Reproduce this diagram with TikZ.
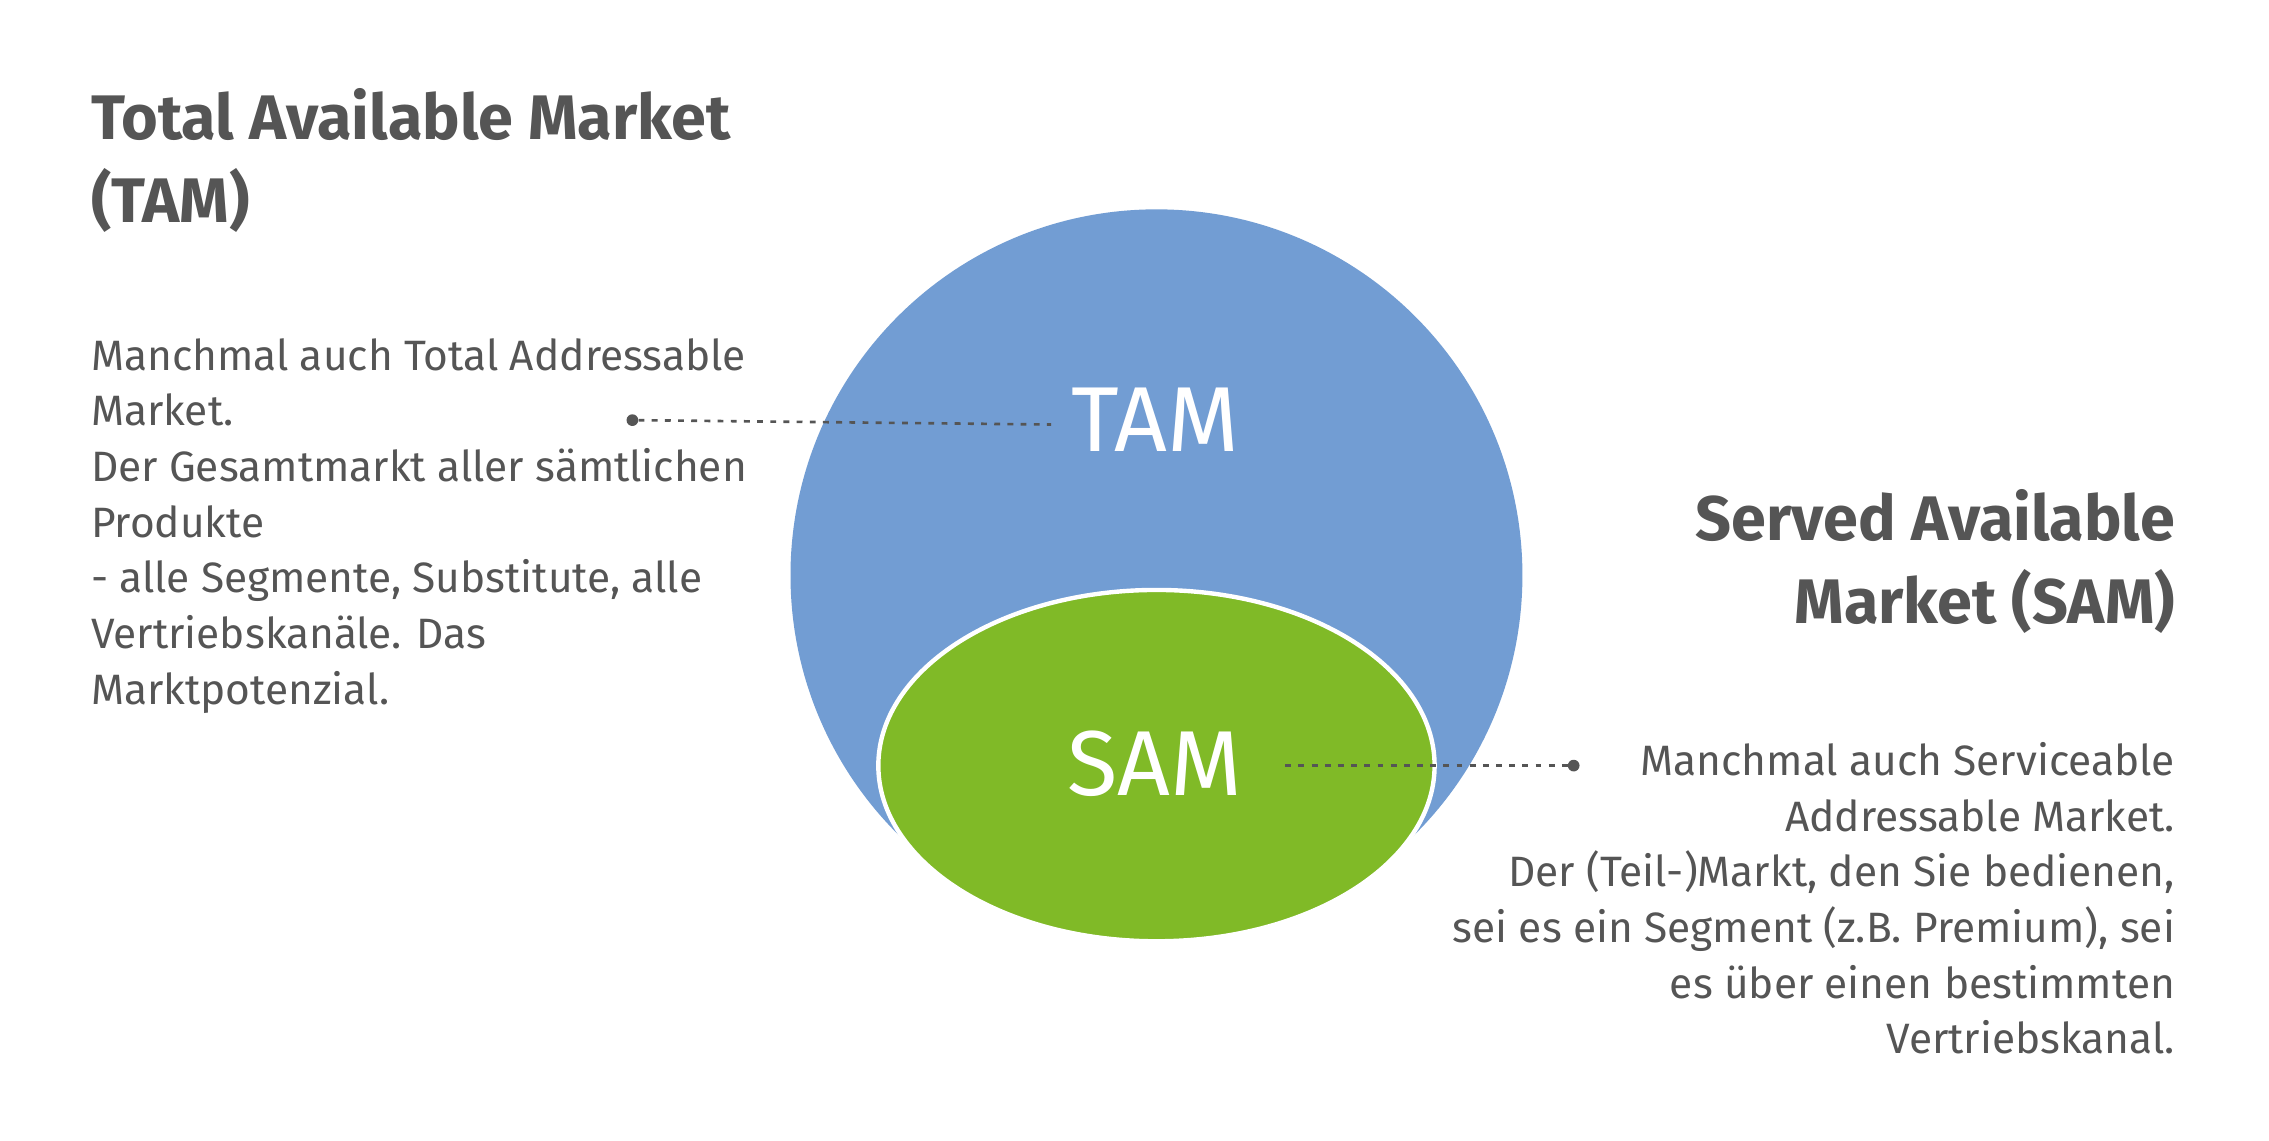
\documentclass[tikz,border=0pt]{standalone}
\usepackage{fontspec}
\setmainfont{Fira Sans}
\definecolor{tamblue}{HTML}{729DD3}
\definecolor{samgreen}{HTML}{80BA27}
\definecolor{txt}{HTML}{555555}
\begin{document}
\begin{tikzpicture}[x=1pt,y=-1pt,
  ttl/.style={text=txt,font=\fontsize{43}{57}\selectfont\bfseries,inner sep=0},
  body/.style={text=txt,font=\fontsize{29}{38}\selectfont,inner sep=0},
  big/.style={text=white,font=\fontsize{63}{63}\selectfont},
  dotline/.style={txt,line width=1.8pt,dash pattern=on 4pt off 5pt},
  enddot/.style={circle,fill=txt,inner sep=0,minimum size=8pt}]
\useasboundingbox (0,0) rectangle (1550,779);
\fill[white] (0,0) rectangle (1550,779);
\fill[tamblue] (790,393) circle (250);
\filldraw[fill=samgreen,draw=white,line width=3pt] (790,523) ellipse (190 and 120);
\node[big] (tam) at (789,287) {TAM};
\node[big] (sam) at (789,522) {SAM};
\node[enddot] (d1) at (432,287) {};
\coordinate (e1) at (718,290);
\draw[dotline] (d1) -- (e1);
\node[enddot] (d2) at (1075,523) {};
\coordinate (e2) at (878,523);
\draw[dotline] (e2) -- (d2);
\node[ttl,anchor=north west,align=left] (t1) at (62,60) {Total Available Market\\(TAM)};
\node[body,anchor=north west,align=left] (b1) at (62,231) {Manchmal auch Total Addressable\\Market.\\Der Gesamtmarkt aller sämtlichen\\Produkte\\- alle Segmente, Substitute, alle\\Vertriebskanäle. Das\\Marktpotenzial.};
\node[ttl,anchor=north east,align=right] (t2) at (1486,334) {Served Available\\Market (SAM)};
\node[body,anchor=north east,align=right] (b2) at (1486,507) {Manchmal auch Serviceable\\Addressable Market.\\Der (Teil-)Markt, den Sie bedienen,\\sei es ein Segment (z.B. Premium), sei\\es über einen bestimmten\\Vertriebskanal.};
\end{tikzpicture}
\end{document}
